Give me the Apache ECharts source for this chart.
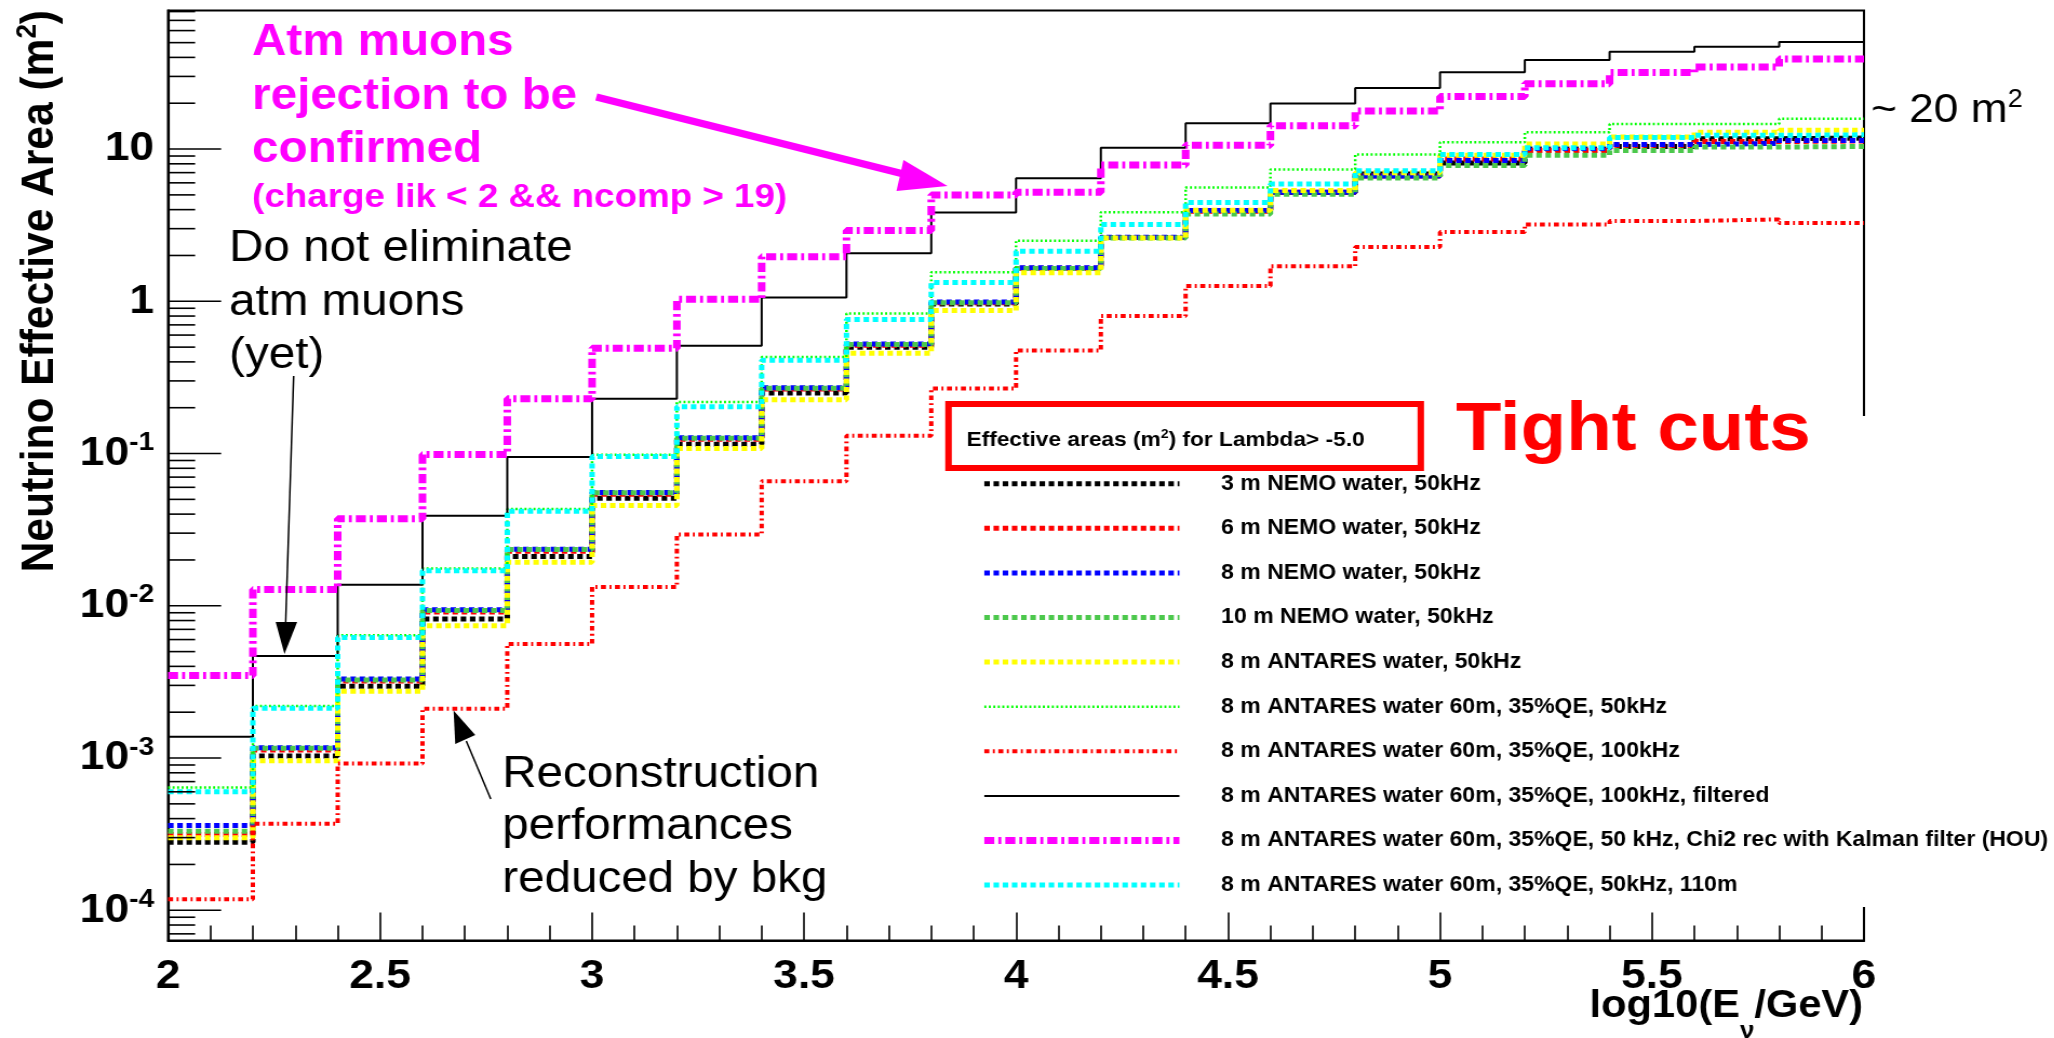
<!DOCTYPE html>
<html>
<head>
<meta charset="utf-8">
<title>Neutrino effective area</title>
<script src="https://cdn.jsdelivr.net/npm/echarts@6/dist/echarts.min.js"></script>
<style>
  html, body { margin: 0; padding: 0; background: #ffffff; overflow: hidden; }
  #chart { position: absolute; left: 0; top: 0; transform-origin: 0 0; }
</style>
</head>
<body>
<div id="chart"></div>
<script>
// ---------------------------------------------------------------------------
// Data: effective area (m^2) per log10(E/GeV) bin, 20 bins of width 0.2
// ---------------------------------------------------------------------------
const binEdges = [2.0, 2.2, 2.4, 2.6, 2.8, 3.0, 3.2, 3.4, 3.6, 3.8, 4.0,
                  4.2, 4.4, 4.6, 4.8, 5.0, 5.2, 5.4, 5.6, 5.8, 6.0];

const seriesNames = [
  '3 m NEMO water, 50kHz',
  '6 m NEMO water, 50kHz',
  '8 m NEMO water, 50kHz',
  '10 m NEMO water, 50kHz',
  '8 m ANTARES water, 50kHz',
  '8 m ANTARES water 60m, 35%QE, 50kHz',
  '8 m ANTARES water 60m, 35%QE, 100kHz',
  '8 m ANTARES water 60m, 35%QE, 100kHz, filtered',
  '8 m ANTARES water 60m, 35%QE, 50 kHz, Chi2 rec with Kalman filter (HOU)',
  '8 m ANTARES water 60m, 35%QE, 50kHz, 110m'
];

const nemo3m      = [2.8e-4, 1.03e-3, 2.96e-3, 8.2e-3, 0.0211, 0.0509, 0.115, 0.250, 0.500, 0.960,
                     1.64, 2.62, 3.95, 5.18, 6.85, 8.1, 10.0, 10.4, 11.7, 11.8];
const nemo6m      = [3.15e-4, 1.13e-3, 3.2e-3, 9.1e-3, 0.0228, 0.054, 0.124, 0.265, 0.515, 0.98,
                     1.65, 2.62, 3.9, 5.2, 6.65, 8.6, 9.8, 10.6, 11.2, 11.3];
const nemo8m      = [3.6e-4, 1.17e-3, 3.3e-3, 9.4e-3, 0.0235, 0.0555, 0.127, 0.270, 0.525, 0.99,
                     1.66, 2.63, 3.95, 5.2, 6.65, 8.4, 10.1, 10.7, 10.9, 11.4];
const nemo10m     = [3.3e-4, 1.16e-3, 3.25e-3, 9.3e-3, 0.0234, 0.0552, 0.126, 0.268, 0.52, 0.98,
                     1.64, 2.6, 3.75, 5.05, 6.45, 7.8, 9.1, 9.8, 10.3, 10.4];
const antares50   = [3.0e-4, 9.6e-4, 2.75e-3, 7.4e-3, 0.0193, 0.0456, 0.108, 0.226, 0.455, 0.87,
                     1.54, 2.6, 3.96, 5.35, 7.0, 9.1, 10.8, 12.0, 12.9, 13.3];
const antaresQE50 = [6.4e-4, 2.2e-3, 6.4e-3, 0.0176, 0.0432, 0.098, 0.218, 0.43, 0.83, 1.55,
                     2.5, 3.85, 5.6, 7.35, 9.2, 11.1, 12.9, 14.6, 14.6, 15.8];
const antaresQE100 = [1.18e-4, 3.7e-4, 9.2e-4, 2.11e-3, 5.6e-3, 0.0133, 0.0294, 0.0658, 0.131, 0.267,
                      0.475, 0.80, 1.26, 1.70, 2.27, 2.85, 3.2, 3.37, 3.45, 3.27];
const antaresQE100f = [1.38e-3, 4.67e-3, 0.01375, 0.039, 0.0948, 0.229, 0.511, 1.06, 2.07, 3.83,
                       6.44, 10.2, 14.8, 19.9, 25.2, 32.0, 38.5, 43.6, 47.0, 50.5];
const antaresKalman = [3.48e-3, 0.0128, 0.0373, 0.0985, 0.229, 0.492, 1.03, 1.96, 2.92, 4.99,
                       5.2, 7.85, 10.6, 14.2, 17.8, 22.1, 26.9, 31.8, 34.6, 39.1];
const antares110m = [6.0e-4, 2.12e-3, 6.2e-3, 0.0170, 0.0418, 0.0955, 0.203, 0.41, 0.76, 1.33,
                     2.13, 3.2, 4.45, 5.9, 7.2, 9.2, 10.2, 11.9, 12.3, 12.4];

const seriesValues = [nemo3m, nemo6m, nemo8m, nemo10m, antares50, antaresQE50,
                      antaresQE100, antaresQE100f, antaresKalman, antares110m];

// axis ranges and tick marks
const X_MIN = 2, X_MAX = 6, X_INTERVAL = 0.5;
const Y_MIN = 6.33e-5, Y_MAX = 81.3;
const yLabelExponents = [-4, -3, -2, -1, 0, 1];
const yMinorDecades = [-5, -4, -3, -2, -1, 0, 1];
const yMinorSteps = [2, 3, 4, 5, 6, 7, 8, 9];

// ---------------------------------------------------------------------------
// Page geometry: the figure is drawn narrower and widened with CSS
// ---------------------------------------------------------------------------
const SX = 1.08;
const PAGE_W = 2054, PAGE_H = 1038;
const CHART_W = PAGE_W / SX;
const ux = x => x / SX;           // page x -> chart x
const FONT = '"Liberation Sans", Arial, Helvetica, sans-serif';

const el = document.getElementById('chart');
el.style.width = CHART_W + 'px';
el.style.height = PAGE_H + 'px';
el.style.transform = 'scaleX(' + SX + ')';

// line appearance of each histogram
const dotThick = [5.5, 3.7];
const lineLooks = [
  { color: '#000000', width: 5,   dash: dotThick },
  { color: '#ff0000', width: 5,   dash: dotThick },
  { color: '#0000ff', width: 5,   dash: dotThick },
  { color: '#4cc84c', width: 5,   dash: dotThick },
  { color: '#ffff00', width: 5,   dash: dotThick },
  { color: '#00ff00', width: 2.5, dash: [2, 2.5] },
  { color: '#ff0000', width: 4,   dash: [5, 3.5, 2, 3.5] },
  { color: '#000000', width: 2,   dash: null },
  { color: '#ff00ff', width: 7,   dash: [10, 4, 3, 4] },
  { color: '#00ffff', width: 5,   dash: dotThick }
];
const dashType = d => d ? d.map(v => v / SX) : 'solid';

// histogram outline: one point per lower bin edge plus the closing edge
function stepPoints(vals) {
  const pts = vals.map((v, i) => [binEdges[i], v]);
  pts.push([binEdges[binEdges.length - 1], vals[vals.length - 1]]);
  return pts;
}

const histSeries = seriesNames.map((name, i) => ({
  type: 'line',
  name: name,
  step: 'end',
  data: stepPoints(seriesValues[i]),
  symbol: 'none',
  showSymbol: false,
  z: 2,
  lineStyle: { color: lineLooks[i].color, width: lineLooks[i].width, type: dashType(lineLooks[i].dash), cap: 'butt' },
  itemStyle: { color: lineLooks[i].color },
  emphasis: { disabled: true },
  animation: false
}));

// log-axis ticks (major decades with labels, minor 2..9)
const yTicks = [];
yLabelExponents.forEach(e => {
  let label;
  if (e === 0) label = '{b|1}';
  else if (e === 1) label = '{b|10}';
  else label = '{b|10}{s|' + e + '}';
  yTicks.push({ v: Number('1e' + e), major: true, label: label });
});
yMinorDecades.forEach(d => {
  yMinorSteps.forEach(k => {
    const v = k * Number('1e' + d);
    if (v >= Y_MIN && v <= Y_MAX) yTicks.push({ v: v, major: false, label: null });
  });
});

const tickSeries = {
  type: 'custom',
  name: 'yTicks',
  coordinateSystem: 'cartesian2d',
  data: yTicks.map(t => [X_MIN, t.v]),
  encode: { x: 0, y: 1 },
  silent: true,
  clip: false,
  z: 5,
  animation: false,
  renderItem: function (params, api) {
    const t = yTicks[params.dataIndex];
    const p = api.coord([X_MIN, t.v]);
    const len = ux(t.major ? 53 : 27);
    const children = [{
      type: 'line',
      shape: { x1: p[0], y1: p[1], x2: p[0] + len, y2: p[1] },
      style: { stroke: '#000', lineWidth: 1.6 }
    }];
    if (t.label) {
      children.push({
        type: 'text',
        x: p[0] - ux(14),
        y: p[1],
        style: {
          text: t.label,
          align: 'right',
          verticalAlign: 'middle',
          fill: '#000',
          rich: {
            b: { fontFamily: FONT, fontSize: 41, fontWeight: 'bold', lineHeight: 41, verticalAlign: 'bottom', fill: '#000' },
            s: { fontFamily: FONT, fontSize: 26, fontWeight: 'bold', lineHeight: 26, padding: [0, 0, 18, 0], verticalAlign: 'bottom', fill: '#000' }
          }
        }
      });
    }
    return { type: 'group', children: children };
  }
};

// plain text helper: left edge in page pixels, vertical centre
function note(left, cy, text, size, weight, color) {
  return {
    type: 'text', x: ux(left), y: cy, z: 20,
    style: { text: text, fontFamily: FONT, fontSize: size, fontWeight: weight,
             fill: color, align: 'left', verticalAlign: 'middle' }
  };
}
function arrow(x1, y1, x2, y2, head, width, color) {
  return [
    { type: 'line', z: 20, shape: { x1: ux(x1), y1: y1, x2: ux(x2), y2: y2 },
      style: { stroke: color, lineWidth: width } },
    { type: 'polygon', z: 20, shape: { points: head.map(p => [ux(p[0]), p[1]]) },
      style: { fill: color } }
  ];
}

const MAG = '#ff00ff';
const graphics = [
  // white legend panel
  { type: 'rect', z: 3, shape: { x: ux(945), y: 416, width: CHART_W, height: 907 - 416 },
    style: { fill: '#ffffff' } },
  // legend header box
  { type: 'rect', z: 20, shape: { x: ux(948), y: 404, width: ux(1420 - 948), height: 468 - 404 },
    style: { fill: '#ffffff', stroke: '#ff0000', lineWidth: 6 } },
  { type: 'text', z: 21, x: ux(966), y: 429,
    style: { text: '{t|Effective areas (m}{s|2}{t|) for Lambda> -5.0}', align: 'left', verticalAlign: 'top',
             rich: {
               t: { fontFamily: FONT, fontSize: 21, fontWeight: 'bold', lineHeight: 22, verticalAlign: 'bottom', fill: '#000' },
               s: { fontFamily: FONT, fontSize: 13, fontWeight: 'bold', lineHeight: 13, padding: [0, 0, 10, 0], verticalAlign: 'bottom', fill: '#000' }
             } } },
  note(1455, 431, 'Tight cuts', 69, 'bold', '#ff0000'),

  // magenta remark
  note(252, 42.5, 'Atm muons', 44, 'bold', MAG),
  note(252, 96.5, 'rejection to be', 44, 'bold', MAG),
  note(252, 149.5, 'confirmed', 44, 'bold', MAG),
  note(252, 197.5, '(charge lik < 2 && ncomp > 19)', 34, 'bold', MAG),
  ...arrow(596, 97, 903, 174, [[947, 186], [903, 160], [896, 191]], 7, MAG),

  // black remarks
  note(229, 248.5, 'Do not eliminate', 44, 'normal', '#000'),
  note(229, 302.5, 'atm muons', 44, 'normal', '#000'),
  note(229, 355.5, '(yet)', 44, 'normal', '#000'),
  ...arrow(293.5, 376, 285.5, 623, [[284.3, 654], [275.5, 622], [297, 622]], 1.5, '#000'),
  note(502, 774.5, 'Reconstruction', 44, 'normal', '#000'),
  note(502, 826.5, 'performances', 44, 'normal', '#000'),
  note(502, 879.5, 'reduced by bkg', 44, 'normal', '#000'),
  ...arrow(490.5, 799, 466, 741, [[453.3, 710.6], [455, 744], [475, 735]], 1.5, '#000'),

  // right-hand remark
  { type: 'text', z: 20, x: ux(1870), y: 90,
    style: { text: '{t|~ 20 m}{s|2}', align: 'left', verticalAlign: 'top',
             rich: {
               t: { fontFamily: FONT, fontSize: 41, lineHeight: 41, verticalAlign: 'bottom', fill: '#000' },
               s: { fontFamily: FONT, fontSize: 25, lineHeight: 25, padding: [0, 0, 18, 0], verticalAlign: 'bottom', fill: '#000' }
             } } },

  // axis titles
  { type: 'text', z: 20, x: ux(40), y: 10, rotation: Math.PI / 2,
    style: { text: '{t|Neutrino Effective Area (m}{s|2}{t|)}', align: 'right', verticalAlign: 'middle',
             rich: {
               t: { fontFamily: FONT, fontSize: 42.5, fontWeight: 'bold', lineHeight: 44, verticalAlign: 'bottom', fill: '#000' },
               s: { fontFamily: FONT, fontSize: 26, fontWeight: 'bold', lineHeight: 26, padding: [0, 0, 20, 0], verticalAlign: 'bottom', fill: '#000' }
             } } },
  { type: 'text', z: 20, x: ux(1862), y: 987,
    style: { text: '{t|log10(E}{v|ν}{t|/GeV)}', align: 'right', verticalAlign: 'top',
             rich: {
               t: { fontFamily: FONT, fontSize: 38.5, fontWeight: 'bold', lineHeight: 40, verticalAlign: 'top', fill: '#000' },
               v: { fontFamily: FONT, fontSize: 24, fontWeight: 'bold', lineHeight: 24, padding: [32, 0, 0, 0], verticalAlign: 'top', fill: '#000' }
             } } }
];

const chart = echarts.init(el, null, { renderer: 'canvas', width: CHART_W, height: PAGE_H });

chart.setOption({
  animation: false,
  backgroundColor: '#ffffff',
  grid: {
    left: ux(168), right: CHART_W - ux(1863), top: 10.5, bottom: PAGE_H - 940.5,
    show: true, borderColor: '#000', borderWidth: 2, backgroundColor: 'transparent',
    containLabel: false, outerBoundsMode: 'none'
  },
  xAxis: {
    type: 'value', min: X_MIN, max: X_MAX, interval: X_INTERVAL,
    axisLine: { show: true, onZero: false, lineStyle: { color: '#000', width: 2.2 } },
    axisTick: { show: true, inside: true, length: 28, lineStyle: { color: '#000', width: 1.6 } },
    minorTick: { show: true, splitNumber: 5, length: 15, lineStyle: { color: '#000', width: 1.6 } },
    axisLabel: { show: true, margin: 16, color: '#000', fontFamily: FONT, fontSize: 41,
                 fontWeight: 'bold', lineHeight: 41 },
    splitLine: { show: false }, minorSplitLine: { show: false }
  },
  yAxis: {
    type: 'log', logBase: 10, min: Y_MIN, max: Y_MAX,
    axisLine: { show: true, onZero: false, lineStyle: { color: '#000', width: 2.2 } },
    axisTick: { show: false }, axisLabel: { show: false },
    splitLine: { show: false }, minorTick: { show: false }, minorSplitLine: { show: false }
  },
  legend: {
    orient: 'vertical',
    left: ux(980), top: 473.2,
    padding: 0,
    itemWidth: ux(195), itemHeight: 20, itemGap: 23.6,
    selectedMode: false,
    itemStyle: { opacity: 0 },
    textStyle: { fontFamily: FONT, fontSize: 21.3, fontWeight: 'bold', color: '#000',
                 lineHeight: 20, padding: [0, 0, 0, ux(1216.7 - 1175) - 5] },
    data: seriesNames.map((name, i) => ({
      name: name,
      itemStyle: { opacity: 0 },
      lineStyle: { color: lineLooks[i].color, width: lineLooks[i].width, type: dashType(lineLooks[i].dash), opacity: 1 }
    }))
  },
  series: histSeries.concat([tickSeries]),
  graphic: { elements: graphics }
});
</script>
</body>
</html>
